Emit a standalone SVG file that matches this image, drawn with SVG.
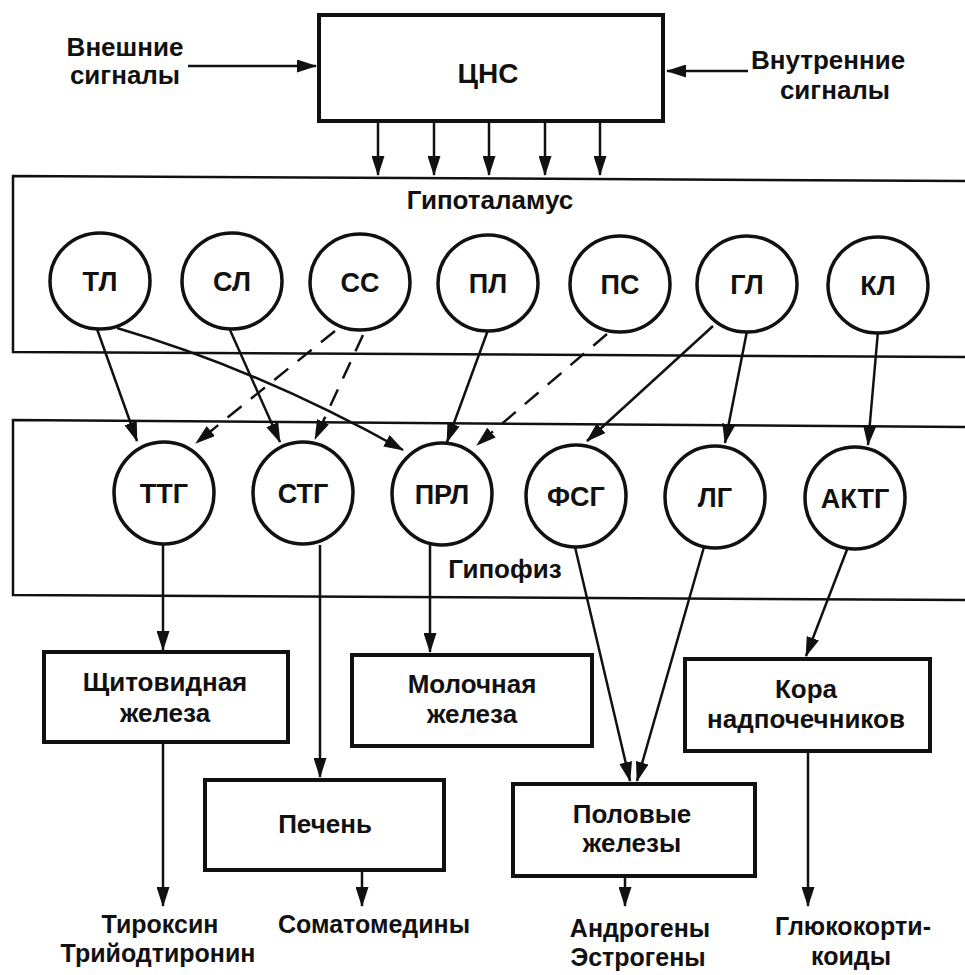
<svg xmlns="http://www.w3.org/2000/svg" width="965" height="975" viewBox="0 0 965 975">
<defs>
<style>
text{font-family:"Liberation Sans",Arial,sans-serif;font-weight:bold;font-size:26px;fill:#111;text-anchor:middle}
.c{font-size:27px}
.o{font-size:25px}
.box{fill:#fff;stroke:#111;stroke-width:4}
.circ{fill:#fff;stroke:#111;stroke-width:3.5}
.band{fill:none;stroke:#111;stroke-width:2.5}
.ln{fill:none;stroke:#111;stroke-width:2.5;marker-end:url(#ah)}
.dash{stroke-dasharray:18 12}
</style>
<marker id="ah" viewBox="0 0 20 13" refX="19" refY="6.5" markerWidth="20" markerHeight="13" markerUnits="userSpaceOnUse" orient="auto">
<path d="M0,0 L20,6.5 L0,13 z" fill="#111"/>
</marker>
</defs>
<rect width="965" height="975" fill="#fff"/>

<g id="hypothalamus-band">
<path class="band" d="M965,181 L13,176 L13,352 L965,357"/>
<text x="490" y="209">Гипоталамус</text>
</g>
<g id="hypophysis-band">
<path class="band" d="M965,427 L13,420 L13,595 L965,600"/>
<text x="505" y="578">Гипофиз</text>
</g>

<g id="connectors">
<line class="ln" x1="188" y1="66" x2="316" y2="66"/>
<line class="ln" x1="748" y1="71" x2="667" y2="71"/>
<line class="ln" x1="378" y1="123" x2="378" y2="175"/>
<line class="ln" x1="434" y1="123" x2="434" y2="175"/>
<line class="ln" x1="489" y1="123" x2="489" y2="175"/>
<line class="ln" x1="545" y1="123" x2="545" y2="175"/>
<line class="ln" x1="600" y1="123" x2="600" y2="175"/>

<line class="ln" x1="97" y1="329" x2="137" y2="441"/>
<path class="ln" d="M117,328 Q260,370 403,450"/>
<line class="ln" x1="230" y1="330" x2="280" y2="442"/>
<line class="ln dash" x1="335" y1="331" x2="196" y2="443"/>
<line class="ln dash" x1="363" y1="335" x2="315" y2="439"/>
<line class="ln" x1="488" y1="330" x2="447" y2="442"/>
<line class="ln dash" x1="607" y1="334" x2="477" y2="445"/>
<line class="ln" x1="713" y1="326" x2="587" y2="441"/>
<line class="ln" x1="747" y1="331" x2="725" y2="443"/>
<line class="ln" x1="878" y1="331" x2="868" y2="445"/>

<line class="ln" x1="163" y1="545" x2="163" y2="650"/>
<line class="ln" x1="320" y1="545" x2="320" y2="777"/>
<line class="ln" x1="430" y1="545" x2="430" y2="652"/>
<line class="ln" x1="575" y1="547" x2="630" y2="781"/>
<line class="ln" x1="704" y1="547" x2="637" y2="781"/>
<line class="ln" x1="848" y1="547" x2="806" y2="656"/>

<line class="ln" x1="163" y1="743" x2="163" y2="906"/>
<line class="ln" x1="362" y1="872" x2="362" y2="906"/>
<line class="ln" x1="625" y1="878" x2="625" y2="906"/>
<line class="ln" x1="808" y1="753" x2="808" y2="906"/>
</g>

<g id="ext-signals">
<text x="125" y="56">Внешние</text>
<text x="125" y="84">сигналы</text>
</g>
<g id="int-signals">
<text x="828" y="69">Внутренние</text>
<text x="835" y="99">сигналы</text>
</g>
<g id="cns">
<rect class="box" x="319" y="15" width="344" height="106"/>
<text x="488" y="83" style="font-size:28px">ЦНС</text>
</g>

<g id="TL"><ellipse class="circ" cx="100" cy="281" rx="50" ry="48"/><text class="c" x="100" y="291">ТЛ</text></g>
<g id="SL"><ellipse class="circ" cx="232" cy="281" rx="50" ry="48"/><text class="c" x="232" y="291">СЛ</text></g>
<g id="SS"><ellipse class="circ" cx="360" cy="282" rx="50" ry="48"/><text class="c" x="360" y="292">СС</text></g>
<g id="PL"><ellipse class="circ" cx="488" cy="283" rx="50" ry="48"/><text class="c" x="488" y="293">ПЛ</text></g>
<g id="PS"><ellipse class="circ" cx="620" cy="284" rx="50" ry="48"/><text class="c" x="620" y="294">ПС</text></g>
<g id="GL"><ellipse class="circ" cx="747" cy="284" rx="50" ry="48"/><text class="c" x="747" y="294">ГЛ</text></g>
<g id="KL"><ellipse class="circ" cx="878" cy="285" rx="50" ry="48"/><text class="c" x="878" y="295">КЛ</text></g>

<g id="TTG"><ellipse class="circ" cx="164" cy="493" rx="50" ry="51"/><text class="c" x="164" y="503">ТТГ</text></g>
<g id="STG"><ellipse class="circ" cx="303" cy="493" rx="50" ry="51"/><text class="c" x="303" y="503">СТГ</text></g>
<g id="PRL"><ellipse class="circ" cx="442" cy="494" rx="50" ry="51"/><text class="c" x="442" y="504">ПРЛ</text></g>
<g id="FSG"><ellipse class="circ" cx="576" cy="496" rx="50" ry="51"/><text class="c" x="576" y="506">ФСГ</text></g>
<g id="LG"><ellipse class="circ" cx="715" cy="497" rx="50" ry="51"/><text class="c" x="715" y="507">ЛГ</text></g>
<g id="AKTG"><ellipse class="circ" cx="855" cy="498" rx="50" ry="51"/><text class="c" x="855" y="508">АКТГ</text></g>

<g id="thyroid"><rect class="box" x="44" y="652" width="244" height="90"/><text x="165" y="691">Щитовидная</text><text x="165" y="722">железа</text></g>
<g id="mammary"><rect class="box" x="352" y="655" width="240" height="91"/><text x="472" y="693">Молочная</text><text x="472" y="723">железа</text></g>
<g id="adrenal"><rect class="box" x="685" y="659" width="245" height="92"/><text x="806" y="698">Кора</text><text x="806" y="728">надпочечников</text></g>
<g id="liver"><rect class="box" x="205" y="780" width="239" height="90"/><text x="325" y="833">Печень</text></g>
<g id="gonads"><rect class="box" x="513" y="784" width="242" height="92"/><text x="632" y="823">Половые</text><text x="632" y="852">железы</text></g>

<g id="out-thyroid"><text class="o" x="160" y="933">Тироксин</text><text class="o" x="158" y="962">Трийодтиронин</text></g>
<g id="out-liver"><text class="o" x="374" y="933">Соматомедины</text></g>
<g id="out-gonads"><text class="o" x="640" y="937">Андрогены</text><text class="o" x="638" y="966">Эстрогены</text></g>
<g id="out-adrenal"><text class="o" x="853" y="935">Глюкокорти-</text><text class="o" x="851" y="965">коиды</text></g>
</svg>
